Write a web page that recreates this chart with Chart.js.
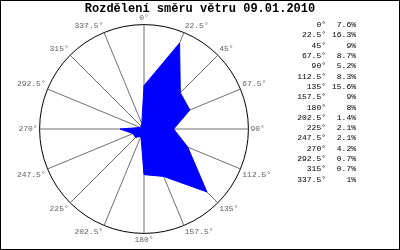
<!DOCTYPE html>
<html>
<head>
    <title>Rozdělení směru větru</title>
    <script src="https://cdn.jsdelivr.net/npm/chart.js@4/dist/chart.umd.min.js"></script>
    <style>
        body {
            margin: 0;
            padding: 0;
            overflow: hidden;
            background-color: white;
        }
        #vitr {
            display: block;
        }
    </style>
</head>
<body>
    <canvas id="vitr" width="400" height="250"></canvas>
    <script>
        // smery vetru a podil v procentech
        const smery = ['0°', '22.5°', '45°', '67.5°', '90°', '112.5°', '135°', '157.5°',
                       '180°', '202.5°', '225°', '247.5°', '270°', '292.5°', '315°', '337.5°'];
        const podil = [7.6, 16.3, 9, 8.7, 5.2, 8.3, 15.6, 9, 8, 1.4, 2.1, 2.1, 4.2, 0.7, 0.7, 1];
        const titulek = 'Rozdělení směru větru 09.01.2010';
        const maxOsa = 18.3;

        // ramecek, nadpis a tabulka hodnot vpravo
        const doplnky = {
            id: 'doplnky',
            beforeDraw(chart) {
                const c = chart.ctx;
                c.save();
                c.fillStyle = '#fff';
                c.fillRect(0, 0, chart.width, chart.height);
                c.restore();
            },
            afterDraw(chart) {
                const c = chart.ctx;
                c.save();
                c.strokeStyle = '#000';
                c.lineWidth = 1;
                c.strokeRect(0.5, 0.5, chart.width - 1, chart.height - 1);

                c.fillStyle = '#000';
                c.font = 'bold 12px "Liberation Mono", monospace';
                c.textAlign = 'center';
                c.textBaseline = 'middle';
                c.fillText(titulek, 200, 9);

                c.font = '8px "Liberation Mono", monospace';
                c.textAlign = 'right';
                for (let i = 0; i < smery.length; i++) {
                    const y = 25 + i * 10.3;
                    c.fillText(smery[i], 326, y);
                    c.fillText(podil[i] + '%', 356, y);
                }
                c.restore();
            }
        };

        new Chart(document.getElementById('vitr'), {
            type: 'radar',
            data: {
                labels: smery,
                datasets: [{
                    data: podil,
                    backgroundColor: '#0000ff',
                    borderColor: '#0000ff',
                    borderWidth: 1,
                    pointRadius: 0,
                    fill: true
                }]
            },
            options: {
                responsive: false,
                animation: false,
                layout: {
                    padding: { left: 0, right: 112, top: 14, bottom: 4 }
                },
                plugins: {
                    legend: { display: false },
                    title: { display: false },
                    tooltip: { enabled: false }
                },
                scales: {
                    r: {
                        min: 0,
                        max: maxOsa,
                        ticks: { display: false, stepSize: maxOsa },
                        grid: { color: '#000', lineWidth: 1, circular: true },
                        angleLines: { color: '#707070', lineWidth: 1 },
                        pointLabels: {
                            color: '#606060',
                            padding: 2,
                            font: { family: '"Liberation Mono", monospace', size: 8 }
                        }
                    }
                }
            },
            plugins: [doplnky]
        });
    </script>
</body>
</html>
